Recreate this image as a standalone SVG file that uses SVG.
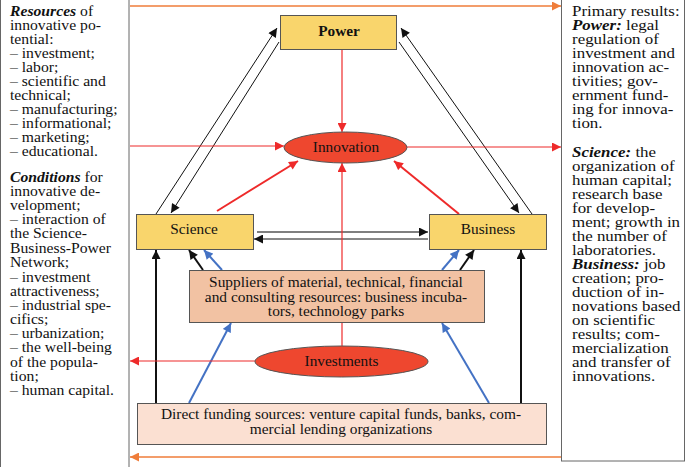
<svg xmlns="http://www.w3.org/2000/svg" width="685" height="467" viewBox="0 0 685 467">
<style>
text{font-family:"Liberation Serif","Times New Roman",serif;fill:#111}
.pt{font-size:14px}
.nl{font-size:15.3px;text-anchor:middle}
.ct{font-size:14px;text-anchor:middle}
.panel{fill:#fff;stroke:#666;stroke-width:1}
.yb{fill:#f9d56c;stroke:#555;stroke-width:1}
.el{fill:#ee472f;stroke:#555;stroke-width:1}
.sup{fill:#f2c2a3;stroke:#555;stroke-width:1}
.dir{fill:#fbe0d2;stroke:#555;stroke-width:1}
.k1{stroke:#111;stroke-width:1;fill:none}
.k2{stroke:#111;stroke-width:2;fill:none}
.gr{stroke:#7f7f7f;stroke-width:2;fill:none}
.bl{stroke:#4472c4;stroke-width:2;fill:none}
.r1{stroke:#ee2a2a;stroke-width:1.2;fill:none}
.r2{stroke:#ee2a2a;stroke-width:2;fill:none}
.or{stroke:#ef7d3a;stroke-width:1.6;fill:none}
</style>
<defs>
<marker id="aK" viewBox="0 0 10 10" refX="10" refY="5" markerWidth="10" markerHeight="9" markerUnits="userSpaceOnUse" orient="auto"><path d="M0,0L10,5L0,10z" fill="#111"/></marker>
<marker id="aR" viewBox="0 0 10 10" refX="10" refY="5" markerWidth="10" markerHeight="9" markerUnits="userSpaceOnUse" orient="auto"><path d="M0,0L10,5L0,10z" fill="#ee2a2a"/></marker>
<marker id="aB" viewBox="0 0 10 10" refX="10" refY="5" markerWidth="10" markerHeight="9" markerUnits="userSpaceOnUse" orient="auto"><path d="M0,0L10,5L0,10z" fill="#4472c4"/></marker>
<marker id="aO" viewBox="0 0 10 10" refX="10" refY="5" markerWidth="10" markerHeight="9" markerUnits="userSpaceOnUse" orient="auto"><path d="M0,0L10,5L0,10z" fill="#ef7d3a"/></marker>
</defs>
<rect width="685" height="467" fill="#fff"/>
<g id="left-panel">
<rect class="panel" x="0.5" y="-1" width="128.5" height="470"/>
<g transform="translate(10,0) scale(1.12,1)" class="pt">
<text x="0" y="16"><tspan font-weight="bold" font-style="italic">Resources</tspan> of</text>
<text x="0" y="30">innovative po-</text>
<text x="0" y="44">tential:</text>
<text x="0" y="58">– investment;</text>
<text x="0" y="72">– labor;</text>
<text x="0" y="86">– scientific and</text>
<text x="0" y="100">technical;</text>
<text x="0" y="114">– manufacturing;</text>
<text x="0" y="128">– informational;</text>
<text x="0" y="142">– marketing;</text>
<text x="0" y="156">– educational.</text>
<text x="0" y="182"><tspan font-weight="bold" font-style="italic">Conditions</tspan> for</text>
<text x="0" y="196">innovative de-</text>
<text x="0" y="210">velopment;</text>
<text x="0" y="224">– interaction of</text>
<text x="0" y="238">the Science-</text>
<text x="0" y="253">Business-Power</text>
<text x="0" y="267">Network;</text>
<text x="0" y="282">– investment</text>
<text x="0" y="296">attractiveness;</text>
<text x="0" y="310">– industrial spe-</text>
<text x="0" y="324">cifics;</text>
<text x="0" y="338">– urbanization;</text>
<text x="0" y="352">– the well-being</text>
<text x="0" y="367">of the popula-</text>
<text x="0" y="381">tion;</text>
<text x="0" y="395">– human capital.</text>
</g>
</g>
<g id="right-panel">
<rect class="panel" x="561.5" y="-1" width="123" height="462"/>
<g transform="translate(572,0) scale(1.21,1)" class="pt">
<text x="0" y="16">Primary results:</text>
<text x="0" y="30"><tspan font-weight="bold" font-style="italic">Power:</tspan> legal</text>
<text x="0" y="44">regulation of</text>
<text x="0" y="58">investment and</text>
<text x="0" y="72">innovation ac-</text>
<text x="0" y="86">tivities; gov-</text>
<text x="0" y="100">ernment fund-</text>
<text x="0" y="114">ing for innova-</text>
<text x="0" y="128">tion.</text>
<text x="0" y="157"><tspan font-weight="bold" font-style="italic">Science:</tspan> the</text>
<text x="0" y="171">organization of</text>
<text x="0" y="185">human capital;</text>
<text x="0" y="199">research base</text>
<text x="0" y="213">for develop-</text>
<text x="0" y="227">ment; growth in</text>
<text x="0" y="241">the number of</text>
<text x="0" y="255">laboratories.</text>
<text x="0" y="269"><tspan font-weight="bold" font-style="italic">Business:</tspan> job</text>
<text x="0" y="283">creation; pro-</text>
<text x="0" y="297">duction of in-</text>
<text x="0" y="311">novations based</text>
<text x="0" y="325">on scientific</text>
<text x="0" y="339">results; com-</text>
<text x="0" y="353">mercialization</text>
<text x="0" y="367">and transfer of</text>
<text x="0" y="381">innovations.</text>
</g>
</g>
<g id="connectors">
<line class="or" x1="130" y1="6" x2="561" y2="6" marker-end="url(#aO)"/>
<line class="or" x1="561" y1="457" x2="130" y2="457" marker-end="url(#aO)"/>
<line class="k1" x1="156" y1="214" x2="277" y2="28" marker-end="url(#aK)"/>
<line class="k1" x1="279" y1="42" x2="171" y2="213" marker-end="url(#aK)"/>
<line class="k1" x1="532" y1="214" x2="401" y2="28" marker-end="url(#aK)"/>
<line class="k1" x1="399" y1="42" x2="519" y2="213" marker-end="url(#aK)"/>
<line class="gr" x1="257" y1="232" x2="428" y2="232" marker-end="url(#aK)"/>
<line class="k1" x1="428" y1="239" x2="254" y2="239" marker-end="url(#aK)"/>
<line class="k2" x1="156" y1="403" x2="156" y2="250" marker-end="url(#aK)"/>
<line class="k2" x1="521" y1="403" x2="521" y2="250" marker-end="url(#aK)"/>
<line class="k2" x1="203" y1="270" x2="189" y2="250" marker-end="url(#aK)"/>
<line class="k2" x1="460" y1="270" x2="474" y2="250" marker-end="url(#aK)"/>
<line class="bl" x1="222" y1="270" x2="204" y2="250" marker-end="url(#aB)"/>
<line class="bl" x1="442" y1="270" x2="459" y2="250" marker-end="url(#aB)"/>
<line class="bl" x1="189" y1="403" x2="231" y2="323" marker-end="url(#aB)"/>
<line class="bl" x1="489" y1="403" x2="442" y2="323" marker-end="url(#aB)"/>
<line class="r1" x1="342" y1="50" x2="342" y2="132" marker-end="url(#aR)"/>
<line class="r1" x1="130" y1="146" x2="284" y2="146" marker-end="url(#aR)"/>
<line class="r1" x1="407" y1="147" x2="561" y2="147" marker-end="url(#aR)"/>
<line class="r2" x1="217" y1="211" x2="298" y2="161" marker-end="url(#aR)"/>
<line class="r2" x1="459" y1="214" x2="394" y2="161" marker-end="url(#aR)"/>
<line class="r1" x1="342" y1="346" x2="342" y2="163" marker-end="url(#aR)"/>
<line class="r1" x1="255" y1="361" x2="130" y2="361" marker-end="url(#aR)"/>
</g>
<g id="power">
<rect class="yb" x="280.5" y="15.5" width="116" height="34"/>
<text class="nl" x="339" y="36" font-weight="bold" font-size="14">Power</text>
</g>
<g id="innovation">
<ellipse class="el" cx="345.5" cy="147.5" rx="61.5" ry="15.5"/>
<text class="nl" x="346" y="152">Innovation</text>
</g>
<g id="science">
<rect class="yb" x="136.5" y="214.5" width="117" height="35"/>
<text class="nl" x="194" y="234">Science</text>
</g>
<g id="business">
<rect class="yb" x="429.5" y="214.5" width="117" height="35"/>
<text class="nl" x="488" y="234">Business</text>
</g>
<g id="suppliers">
<rect class="sup" x="189.5" y="270.5" width="295" height="52"/>
<g transform="translate(336,0) scale(1.1,1)">
<text class="ct" x="0" y="287">Suppliers of material, technical, financial</text>
<text class="ct" x="0" y="302">and consulting resources: business incuba-</text>
<text class="ct" x="0" y="316">tors, technology parks</text>
</g>
</g>
<g id="investments">
<ellipse class="el" cx="341.5" cy="361.5" rx="86.5" ry="15.5"/>
<text class="nl" x="341.5" y="366">Investments</text>
</g>
<g id="direct-funding">
<rect class="dir" x="137.5" y="403.5" width="409" height="41"/>
<g transform="translate(341,0) scale(1.1,1)">
<text class="ct" x="0" y="419">Direct funding sources: venture capital funds, banks, com-</text>
<text class="ct" x="0" y="434">mercial lending organizations</text>
</g>
</g>
</svg>
